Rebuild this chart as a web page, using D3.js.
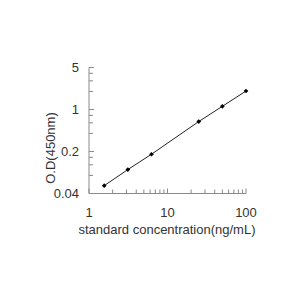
<!DOCTYPE html>
<html>
<head>
<meta charset="utf-8">
<script src="https://cdn.jsdelivr.net/npm/d3@7"></script>
<style>
body{margin:0;background:#fff;}
text{font-family:"Liberation Sans",Arial,sans-serif;fill:#333;}
</style>
</head>
<body>
<div id="chart"></div>
<script>
// standard curve points
var conc=[1.5625,3.125,6.25,25,50,100]
var od=[0.054,0.1,0.18,0.63,1.13,2.03]
var xTicks=[1,10,100]
var yTicks=[0.04,0.2,1,5]

var svg=d3.select("#chart").append("svg")
    .attr("width",300).attr("height",300)

var plotLeft=89,plotRight=246,plotTop=67.5,plotBottom=193.5

var x=d3.scaleLog().domain([1,100]).range([plotLeft,plotRight])
var y=d3.scaleLog().domain([0.04,5]).range([plotBottom,plotTop])

// minor ticks
var xMinor=[]
for(var d=1;d<100;d*=10){
  for(var k=2;k<=9;k++) xMinor.push(d*k)
}
var yMinor=[]
for(var i=0;i<3;i++){
  for(var k=2;k<=4;k++) yMinor.push(yTicks[i]*k)
}

var axisColor="#8a8a8a"

svg.append("line").attr("x1",plotLeft).attr("x2",plotLeft).attr("y1",plotTop).attr("y2",plotBottom)
  .attr("stroke",axisColor)
svg.append("line").attr("x1",plotLeft).attr("x2",plotRight).attr("y1",plotBottom).attr("y2",plotBottom)
  .attr("stroke",axisColor)

svg.append("g").selectAll("line").data(xTicks.concat(xMinor)).enter().append("line")
  .attr("x1",function(d){return x(d)}).attr("x2",function(d){return x(d)})
  .attr("y1",plotBottom).attr("y2",function(d){return xTicks.indexOf(d)>=0?plotBottom-5:plotBottom-4})
  .attr("stroke",axisColor)

svg.append("g").selectAll("line").data(yTicks.concat(yMinor)).enter().append("line")
  .attr("y1",function(d){return y(d)}).attr("y2",function(d){return y(d)})
  .attr("x1",plotLeft).attr("x2",function(d){return yTicks.indexOf(d)>=0?plotLeft+5:plotLeft+4})
  .attr("stroke",axisColor)

svg.append("g").selectAll("text").data(xTicks).enter().append("text")
  .attr("x",function(d){return x(d)}).attr("y",217)
  .attr("text-anchor","middle").attr("font-size",13)
  .text(function(d){return d})

svg.append("g").selectAll("text").data(yTicks).enter().append("text")
  .attr("x",79).attr("y",function(d){return y(d)+4.5})
  .attr("text-anchor","end").attr("font-size",13)
  .text(function(d){return d})

svg.append("text").attr("x",167).attr("y",234).attr("text-anchor","middle")
  .attr("font-size",13).text("standard concentration(ng/mL)")

svg.append("text").attr("transform","translate(55,148) rotate(-90)")
  .attr("text-anchor","middle").attr("font-size",13).text("O.D(450nm)")

var line=d3.line().x(function(d){return x(d[0])}).y(function(d){return y(d[1])})
svg.append("path").datum(d3.zip(conc,od)).attr("d",line)
  .attr("fill","none").attr("stroke","#222").attr("stroke-width",1)

svg.append("g").selectAll("path").data(d3.zip(conc,od)).enter().append("path")
  .attr("d",d3.symbol(d3.symbolSquare,11))
  .attr("transform",function(d){return "translate("+x(d[0])+","+y(d[1])+") rotate(45)"})
  .attr("fill","#000")
</script>
</body>
</html>
